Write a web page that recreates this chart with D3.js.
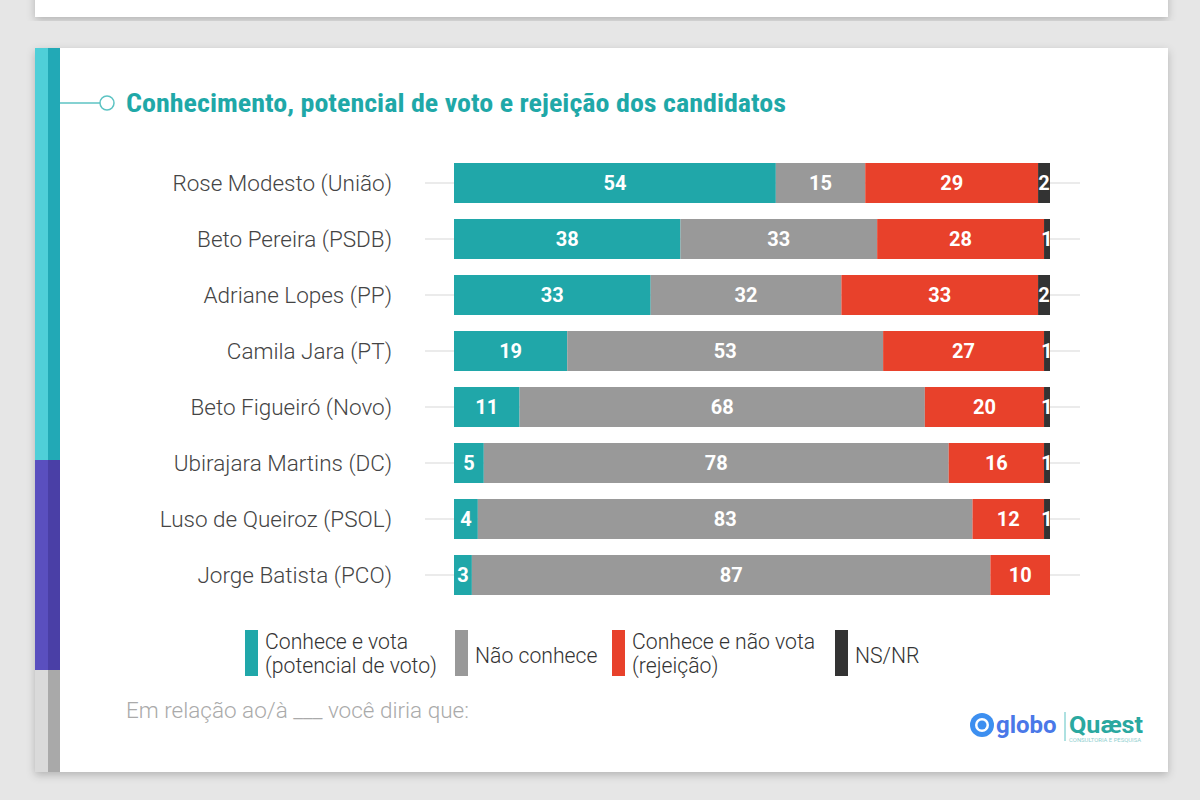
<!DOCTYPE html>
<html><head><meta charset="utf-8">
<script src="https://cdn.jsdelivr.net/npm/d3@7"></script>
<style>
html,body{margin:0;padding:0;background:#e6e6e6;}
svg{display:block;}
</style></head>
<body>
<svg id="chart" width="1200" height="800"></svg>
<script>
const candidates = ["Rose Modesto (União)","Beto Pereira (PSDB)","Adriane Lopes (PP)","Camila Jara (PT)","Beto Figueiró (Novo)","Ubirajara Martins (DC)","Luso de Queiroz (PSOL)","Jorge Batista (PCO)"];
const conheceVota = [54,38,33,19,11,5,4,3];
const naoConhece = [15,33,32,53,68,78,83,87];
const rejeicao = [29,28,33,27,20,16,12,10];
const nsnr = [2,1,2,1,1,1,1,0];
const seriesNames = ["Conhece e vota|(potencial de voto)","Não conhece","Conhece e não vota|(rejeição)","NS/NR"];
const seriesColors = ["#20a7a9","#999999","#e8412b","#333333"];
const title = "Conhecimento, potencial de voto e rejeição dos candidatos";
const footnote = "Em relação ao/à ___ você diria que:";

const svg = d3.select("#chart");
const defs = svg.append("defs");
const f = defs.append("filter").attr("id","sh").attr("x","-5%").attr("y","-5%").attr("width","110%").attr("height","115%");
f.append("feDropShadow").attr("dx",0).attr("dy",3).attr("stdDeviation",4).attr("flood-color","#000").attr("flood-opacity",0.22);

// top card remnant
svg.append("rect").attr("x",35).attr("y",-20).attr("width",1133).attr("height",37).attr("fill","#fff").attr("filter","url(#sh)");
// main card
svg.append("rect").attr("x",35).attr("y",48).attr("width",1133).attr("height",724).attr("fill","#fff").attr("filter","url(#sh)");
// left stripe
const stripe = [
  {y0:48,y1:460,outer:"#4fcfd8",inner:"#22a9b6"},
  {y0:460,y1:670,outer:"#5a4fbf",inner:"#4a3fa6"},
  {y0:670,y1:772,outer:"#dadada",inner:"#a9a9a9"}
];
stripe.forEach(s=>{
  svg.append("rect").attr("x",35).attr("y",s.y0).attr("width",13).attr("height",s.y1-s.y0).attr("fill",s.outer);
  svg.append("rect").attr("x",48).attr("y",s.y0).attr("width",12).attr("height",s.y1-s.y0).attr("fill",s.inner);
});

// title decoration
svg.append("line").attr("x1",60).attr("x2",100).attr("y1",103).attr("y2",103).attr("stroke","#5cc3c3").attr("stroke-width",1.5);
svg.append("circle").attr("cx",107).attr("cy",103).attr("r",7).attr("fill","#fff").attr("stroke","#5cc3c3").attr("stroke-width",1.5);
svg.append("text").attr("x",126).attr("y",112).text(title)
  .attr("font-family","'Liberation Sans Narrow','Roboto Condensed',Roboto,sans-serif").attr("font-weight",700)
  .attr("font-size",25).attr("fill","#1fa8a8").attr("textLength",660).attr("lengthAdjust","spacingAndGlyphs");

// scales
const x = d3.scaleLinear().domain([0,100]).range([454,1050]);
const y = d3.scaleBand().domain(candidates).range([155,603]).paddingInner(0.286).paddingOuter(0.143);

// gridlines behind
svg.append("g").selectAll("line").data(candidates).join("line")
  .attr("x1",425).attr("x2",1080)
  .attr("y1",d=>y(d)+y.bandwidth()/2).attr("y2",d=>y(d)+y.bandwidth()/2)
  .attr("stroke","#e4e4e4").attr("stroke-width",1.5);

const rows = candidates.map((c,i)=>({c, vals:[conheceVota[i],naoConhece[i],rejeicao[i],nsnr[i]]}));
rows.forEach((r,i)=>{
  let acc=0;
  r.segs = r.vals.map((v,k)=>{const s={k,v,x0:acc,x1:acc+v}; acc+=v; return s;});
  defs.append("clipPath").attr("id","clip"+i).append("rect")
    .attr("x",x(0)).attr("y",y(r.c)).attr("width",x(100)-x(0)).attr("height",y.bandwidth());
});

const g = svg.append("g").selectAll("g").data(rows).join("g").attr("clip-path",(d,i)=>`url(#clip${i})`);
g.selectAll("rect").data(d=>d.segs.map(s=>({...s,c:d.c}))).join("rect")
  .attr("x",d=>x(d.x0)).attr("width",d=>x(d.x1)-x(d.x0))
  .attr("y",d=>y(d.c)).attr("height",y.bandwidth())
  .attr("fill",d=>seriesColors[d.k]);
g.selectAll("text").data(d=>d.segs.filter(s=>s.v>0).map(s=>({...s,c:d.c}))).join("text")
  .attr("x",d=>(x(d.x0)+x(d.x1))/2).attr("y",d=>y(d.c)+y.bandwidth()/2+7)
  .attr("text-anchor","middle").attr("fill","#fff")
  .attr("font-family","Roboto,sans-serif").attr("font-weight",700).attr("font-size",20)
  .text(d=>d.v);

// category labels
svg.append("g").selectAll("text").data(candidates).join("text")
  .attr("x",392).attr("y",d=>y(d)+y.bandwidth()/2+8)
  .attr("text-anchor","end").attr("fill","#444")
  .attr("font-family","Roboto,sans-serif").attr("font-weight",300).attr("font-size",22.5)
  .text(d=>d);

// legend
const legX = [245,455,612,835];
const lg = svg.append("g");
seriesNames.forEach((n,k)=>{
  lg.append("rect").attr("x",legX[k]).attr("y",630).attr("width",13).attr("height",46).attr("fill",seriesColors[k]);
  const lines = n.split("|");
  const t = lg.append("text").attr("font-family","Roboto,sans-serif").attr("font-weight",300).attr("font-size",21.2).attr("fill","#333");
  if(lines.length===2){
    lines.forEach((l,j)=>t.append("tspan").attr("x",legX[k]+20).attr("y",649+j*24).text(l));
  } else {
    t.attr("x",legX[k]+20).attr("y",663).text(lines[0]);
  }
});

// footnote
svg.append("text").attr("x",126).attr("y",718).text(footnote)
  .attr("font-family","Roboto,sans-serif").attr("font-weight",300).attr("font-size",22.5).attr("fill","#aaaaaa");

// logo
const lgo = svg.append("g");
lgo.append("circle").attr("cx",982).attr("cy",725).attr("r",12).attr("fill","#3d8ff0");
lgo.append("circle").attr("cx",982).attr("cy",725).attr("r",7).attr("fill","#fff");
lgo.append("circle").attr("cx",982).attr("cy",725).attr("r",4.5).attr("fill","#3d8ff0");
lgo.append("text").attr("x",996).attr("y",733).text("globo")
  .attr("font-family","Roboto,sans-serif").attr("font-weight",700).attr("font-size",24).attr("fill","#4a78e8");
lgo.append("line").attr("x1",1065).attr("x2",1065).attr("y1",712).attr("y2",741).attr("stroke","#5cc3c3").attr("stroke-width",1);
lgo.append("text").attr("x",1069).attr("y",733).text("Quæst")
  .attr("font-family","Roboto,sans-serif").attr("font-weight",700).attr("font-size",24).attr("fill","#2aa8a0")
  .attr("textLength",74).attr("lengthAdjust","spacingAndGlyphs");
lgo.append("text").attr("x",1069).attr("y",742).text("CONSULTORIA E PESQUISA")
  .attr("font-family","Roboto,sans-serif").attr("font-size",5).attr("fill","#8fcfcf")
  .attr("textLength",72).attr("lengthAdjust","spacingAndGlyphs");
</script>
</body></html>
